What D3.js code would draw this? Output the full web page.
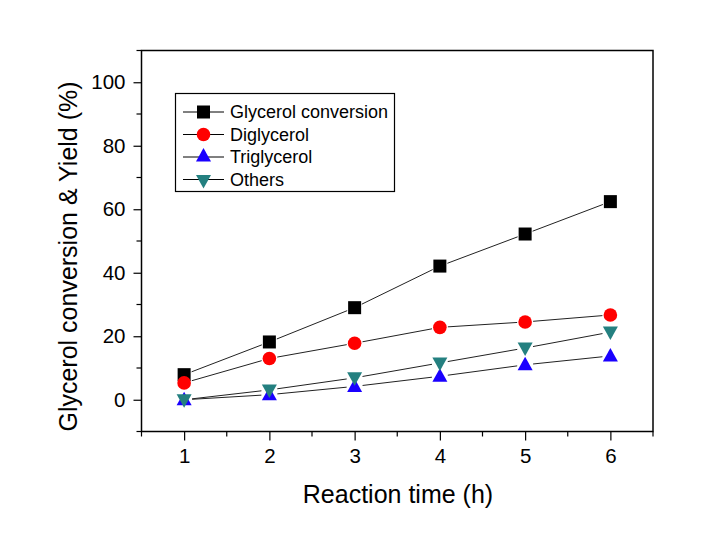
<!DOCTYPE html>
<html><head><meta charset="utf-8">
<script src="https://cdn.jsdelivr.net/npm/d3@7"></script>
<style>body{margin:0;background:#fff}svg{display:block}text{font-family:Arial,"Liberation Sans",sans-serif}</style>
</head><body><svg id="c" width="720" height="546"></svg>
<script>
const times = [1, 2, 3, 4, 5, 6];
const glycerolConversion = [7.9, 18.2, 29.0, 42.1, 52.2, 62.4];
const diglycerol = [5.3, 13.0, 17.8, 22.8, 24.5, 26.7];
const triglycerol = [0.0, 1.6, 4.2, 7.4, 11.0, 13.8];
const others = [0.0, 3.1, 6.9, 11.6, 16.3, 21.3];
const seriesNames = ["Glycerol conversion", "Diglycerol", "Triglycerol", "Others"];
const xTicks = [1, 2, 3, 4, 5, 6];
const yTicks = [0, 20, 40, 60, 80, 100];

const svg = d3.select("#c");
const L = 141.5, R = 653, T = 50.5, B = 431.5;
const x = d3.scaleLinear().domain([0.5, 6.5]).range([L, R]);
const y = d3.scaleLinear().domain([-10, 110]).range([B, T]);

const series = [
  {name: seriesNames[0], vals: glycerolConversion, color: "#000000", sym: "square"},
  {name: seriesNames[1], vals: diglycerol, color: "#ff0000", sym: "circle"},
  {name: seriesNames[2], vals: triglycerol, color: "#1a00ff", sym: "up"},
  {name: seriesNames[3], vals: others, color: "#248080", sym: "down"}
];

function marker(g, sym, cx, cy, color) {
  if (sym === "square") g.append("rect").attr("x", cx - 6.5).attr("y", cy - 6.5).attr("width", 13).attr("height", 13).attr("fill", color);
  else if (sym === "circle") g.append("circle").attr("cx", cx).attr("cy", cy).attr("r", 6.8).attr("fill", color);
  else if (sym === "up") g.append("path").attr("d", `M${cx},${cy-8}L${cx+7.5},${cy+5.5}L${cx-7.5},${cy+5.5}Z`).attr("fill", color);
  else g.append("path").attr("d", `M${cx},${cy+8}L${cx+7.5},${cy-5.5}L${cx-7.5},${cy-5.5}Z`).attr("fill", color);
}

// axes
const xAxis = d3.axisBottom(x).tickValues(xTicks).tickSize(9).tickPadding(8).tickFormat(d3.format("d"));
const gx = svg.append("g").attr("transform", `translate(0,${B})`).call(xAxis);
const yAxis = d3.axisLeft(y).tickValues(yTicks).tickSize(8).tickPadding(8).tickFormat(d3.format("d"));
const gy = svg.append("g").attr("transform", `translate(${L},0)`).call(yAxis);
[gx, gy].forEach(g => {
  g.select(".domain").remove();
  g.selectAll("line").attr("stroke", "#000").attr("stroke-width", 1.2);
  g.selectAll("text").attr("font-size", 20.5).attr("fill", "#000").attr("font-family", "Arial, 'Liberation Sans', sans-serif");
});
// minor ticks
const xMinor = d3.range(0.5, 6.51, 1);
svg.append("g").selectAll("line").data(xMinor).join("line")
  .attr("x1", d => x(d)).attr("x2", d => x(d)).attr("y1", B).attr("y2", B + 5).attr("stroke", "#000").attr("stroke-width", 1.2);
const yMinor = d3.range(-10, 111, 20);
svg.append("g").selectAll("line").data(yMinor).join("line")
  .attr("x1", L - 5).attr("x2", L).attr("y1", d => y(d)).attr("y2", d => y(d)).attr("stroke", "#000").attr("stroke-width", 1.2);
// frame
svg.append("rect").attr("x", L).attr("y", T).attr("width", R - L).attr("height", B - T)
  .attr("fill", "none").attr("stroke", "#000").attr("stroke-width", 1.5);

// series lines with gaps
const gap = 8;
series.forEach(s => {
  const pts = times.map((t, i) => [x(t), y(s.vals[i])]);
  const g = svg.append("g");
  for (let i = 0; i < pts.length - 1; i++) {
    const [x1, y1] = pts[i], [x2, y2] = pts[i + 1];
    const len = Math.hypot(x2 - x1, y2 - y1);
    const ux = (x2 - x1) / len, uy = (y2 - y1) / len;
    g.append("line").attr("x1", x1 + ux * gap).attr("y1", y1 + uy * gap)
      .attr("x2", x2 - ux * gap).attr("y2", y2 - uy * gap)
      .attr("stroke", "#222").attr("stroke-width", 1);
  }
});
series.forEach(s => {
  const g = svg.append("g");
  times.forEach((t, i) => marker(g, s.sym, x(t), y(s.vals[i]), s.color));
});

// legend
const lg = svg.append("g");
lg.append("rect").attr("x", 175.5).attr("y", 93.5).attr("width", 219).attr("height", 98)
  .attr("fill", "#fff").attr("stroke", "#000").attr("stroke-width", 1.2);
series.forEach((s, i) => {
  const cy = 112 + i * 22.5;
  lg.append("line").attr("x1", 183).attr("x2", 224).attr("y1", cy).attr("y2", cy).attr("stroke", "#000").attr("stroke-width", 1);
  marker(lg, s.sym, 203.5, cy + (s.sym === "up" ? -1 : s.sym === "down" ? 1 : 0), s.color);
  lg.append("text").attr("x", 230).attr("y", cy + 6.3).attr("font-size", 18).attr("fill", "#000").text(s.name);
});

// axis titles
svg.append("text").attr("x", 398).attr("y", 503).attr("text-anchor", "middle").attr("font-size", 25).text("Reaction time (h)");
svg.append("text").attr("transform", `translate(76.5,256.5) rotate(-90)`).attr("text-anchor", "middle").attr("font-size", 25).text("Glycerol conversion & Yield (%)");
</script></body></html>
